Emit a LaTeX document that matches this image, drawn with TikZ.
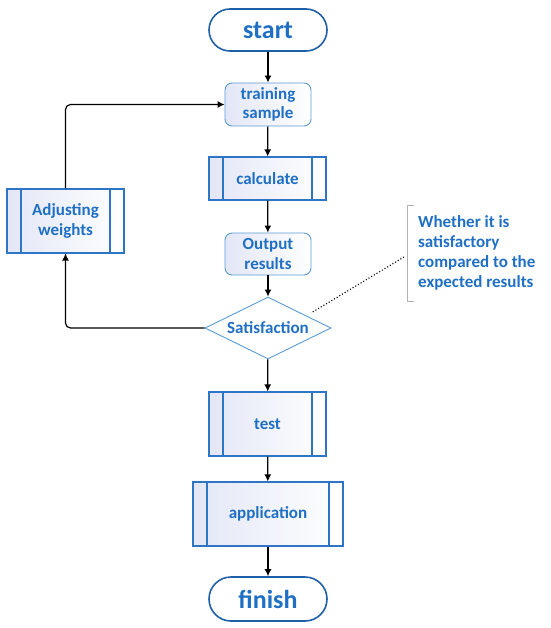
\documentclass[tikz,border=0pt]{standalone}
\usepackage{fontspec}
\setmainfont{Carlito}
\usetikzlibrary{shapes.geometric,arrows.meta}
\definecolor{txtblue}{HTML}{1F6FC5}
\definecolor{darkb}{HTML}{1F5FA8}
\definecolor{boxb}{HTML}{2E75C6}
\definecolor{lightb}{HTML}{5B9BD5}
\definecolor{lav}{HTML}{E3E7F6}
\begin{document}
\begin{tikzpicture}[x=1pt,y=-1pt,
  lbl/.style={font=\bfseries\fontsize{17}{19.5}\selectfont, text=txtblue, align=center, inner sep=0pt},
  terminal/.style={lbl, draw=darkb, line width=1.6pt, fill=white, rounded corners=21pt,
     minimum width=118pt, minimum height=42pt, font=\bfseries\fontsize{26}{28}\selectfont},
  roundbox/.style={lbl, draw=lightb, line width=0.9pt, rounded corners=7pt,
     left color=lav, right color=white, minimum width=86pt, minimum height=43pt},
  procbox/.style={lbl, draw=boxb, line width=1.1pt, left color=lav, right color=white,
     path picture={\draw[boxb, line width=1.1pt]
        ([xshift=14pt]path picture bounding box.north west) -- ([xshift=14pt]path picture bounding box.south west)
        ([xshift=-14pt]path picture bounding box.north east) -- ([xshift=-14pt]path picture bounding box.south east);}},
  decision/.style={lbl, draw=lightb, line width=0.9pt, fill=white, diamond, aspect=2,
     minimum width=126pt, minimum height=62pt},
  arr/.style={-{Latex[length=7pt,width=7pt]}, line width=1.2pt, black}
]
\useasboundingbox (0,0) rectangle (550,628);
\node[terminal] (start) at (268,30) {start};
\node[roundbox] (train) at (268,104.5) {training\\sample};
\node[procbox, minimum width=117pt, minimum height=43pt] (calc) at (267.5,178.5) {calculate};
\node[roundbox, minimum height=42pt] (out) at (268,254) {Output\\results};
\node[decision] (sat) at (268,328) {Satisfaction};
\node[procbox, minimum width=117pt, minimum height=64pt] (adj) at (65.5,221) {Adjusting\\weights};
\node[procbox, minimum width=117pt, minimum height=64pt] (test) at (267.5,424) {test};
\node[procbox, minimum width=150pt, minimum height=64pt] (app) at (268,514) {application};
\node[terminal, minimum height=44pt, rounded corners=22pt] (fin) at (268,599) {finish};

\draw[arr] (start) -- (train);
\draw[arr] (train) -- (calc);
\draw[arr] (calc) -- (out);
\draw[arr] (out) -- (sat);
\draw[arr] (sat) -- (test);
\draw[arr] (test) -- (app);
\draw[arr] (app) -- (fin);
\draw[arr, rounded corners=5pt] (sat.west) -| (adj.south);
\draw[arr, rounded corners=5pt] (adj.north) |- (train.west);

\node[font=\bfseries\fontsize{17}{20}\selectfont, text=txtblue, align=left, anchor=west, inner sep=0pt]
  (note) at (418,253) {Whether it is\\satisfactory\\compared to the\\expected results};
\coordinate (b1) at (414,206);
\coordinate (b2) at (407,206);
\coordinate (b3) at (407,301);
\coordinate (b4) at (414,301);
\draw[gray!60, line width=1pt] (b1) -- (b2) -- (b3) -- (b4);
\coordinate (d1) at (404,257);
\coordinate (d2) at (311,313);
\draw[line width=1.1pt, dotted] (d1) -- (d2);
\end{tikzpicture}
\end{document}
